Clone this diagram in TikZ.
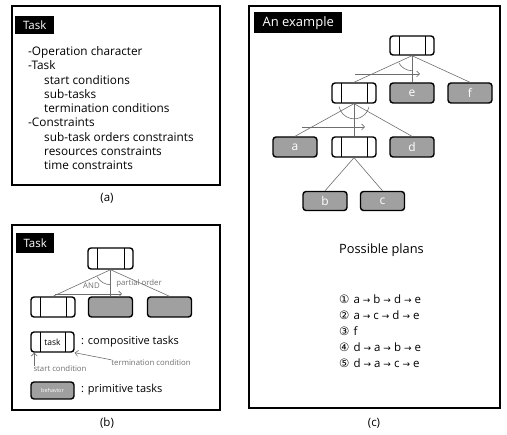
\documentclass[tikz,border=0pt]{standalone}
\usepackage{fontspec}
\setmainfont{Open Sans}
\newfontfamily\symfont{DejaVu Sans}
\usetikzlibrary{arrows.meta}
\definecolor{primgray}{HTML}{A0A0A0}
\definecolor{linegray}{HTML}{6E6E6E}
\newcommand{\pa}{\hspace{3pt}{\symfont\fontsize{9}{9}\selectfont →}\hspace{3pt}}
\newcommand{\cn}[1]{{\symfont #1}\hspace{4pt}}

\tikzset{
  panel/.style={draw,line width=1.3pt},
  title/.style={fill=black,text=white,inner sep=0pt,anchor=north west,font=\fontsize{11.5}{13}\selectfont},
  comp/.style={draw,line width=1.4pt,rounded corners=3pt,fill=white,minimum width=44pt,minimum height=20pt,inner sep=0pt,
    path picture={\draw[line width=0.6pt]
      ([xshift=9pt]path picture bounding box.north west) -- ([xshift=9pt]path picture bounding box.south west)
      ([xshift=-9pt]path picture bounding box.north east) -- ([xshift=-9pt]path picture bounding box.south east);}},
  prim/.style={draw,line width=1.4pt,rounded corners=3pt,fill=primgray,text=white,minimum width=44pt,minimum height=20pt,inner sep=0pt,font=\fontsize{12}{13}\selectfont},
  conn/.style={draw=linegray,line width=0.6pt},
  order/.style={conn,-{Straight Barb[length=3pt,width=6pt]}},
  small/.style={text=linegray,inner sep=0pt,font=\fontsize{7.8}{9}\selectfont},
  caption/.style={font=\fontsize{11.5}{13}\selectfont},
}

\begin{document}
\begin{tikzpicture}[x=1pt,y=-1pt]
\useasboundingbox (0,0) rectangle (507,435);

% (a) task description
\draw[panel] (12,6) rectangle (220,185);
\node[title,minimum width=39pt,minimum height=18pt] (atitle) at (15,16) {Task};
\node[anchor=north west,inner sep=0pt,align=left,font=\fontsize{11.8}{14.25}\selectfont] (alist) at (28,46.5)
  {-Operation character\\
   -Task\\
   \hspace*{16pt}start conditions\\
   \hspace*{16pt}sub-tasks\\
   \hspace*{16pt}termination conditions\\
   -Constraints\\
   \hspace*{16pt}sub-task orders constraints\\
   \hspace*{16pt}resources constraints\\
   \hspace*{16pt}time constraints};
\node[caption] (acap) at (107,198) {(a)};

% (b) task structure
\draw[panel] (12,225) rectangle (220,410);
\node[title,minimum width=38pt,minimum height=20pt] (btitle) at (16,233) {Task};
\node[comp,minimum width=45pt,minimum height=21pt] (tb0) at (110.5,258.5) {};
\node[comp] (tb1) at (53,307) {};
\node[prim] (tb2) at (110.5,307) {};
\node[prim] (tb3) at (169.5,307) {};
\draw[conn] (tb0.south) -- (tb1.north);
\draw[conn] (tb0.south) -- (tb2.north);
\draw[conn] (tb0.south) -- (tb3.north);
\draw[conn] ([yshift=-15pt]tb0.south) arc[start angle=90,end angle=152,radius=15];
\coordinate (bpos) at (55,294);
\coordinate (bpoe) at (122,294);
\draw[order] (bpos) -- (bpoe);
\node[small] (andlbl) at (91.5,286) {AND};
\node[small] (polbl) at (139,283) {partial order};

\node[comp,minimum width=43pt] (tbt) at (52.5,342) {\fontsize{8.5}{9}\selectfont task};
\node[anchor=west,inner sep=0pt,font=\fontsize{11}{13}\selectfont] (complbl) at (81,342) {: compositive tasks};
\node[small] (startlbl) at (60,369) {start condition};
\node[small] (termlbl) at (151,363) {termination condition};
\draw[order] ([xshift=4pt]tbt.south west |- startlbl.north) -- ([xshift=4pt]tbt.south west);
\draw[order] (termlbl.north west) -- (tbt.south east);
\node[prim,minimum width=43pt,minimum height=17pt,font=\fontsize{5.5}{6}\selectfont] (tbb) at (52.5,390.5) {behavior};
\node[anchor=west,inner sep=0pt,font=\fontsize{11}{13}\selectfont] (primlbl) at (81,390) {: primitive tasks};
\node[caption] (bcap) at (107,423) {(b)};

% (c) an example
\draw[panel] (249,6) rectangle (500,408);
\node[title,minimum width=88pt,minimum height=21pt,font=\fontsize{13}{14}\selectfont] (ctitle) at (254,12) {An example};
\node[comp,minimum height=19pt] (ct0) at (412,45.5) {};
\node[comp] (cl2) at (354,93) {};
\node[prim] (ce) at (412,93) {e};
\node[prim] (cf) at (470,93) {f};
\node[prim] (ca) at (295,147) {a};
\node[comp] (cm) at (354,147) {};
\node[prim] (cd) at (412,147) {d};
\node[prim,minimum height=19pt] (cb) at (325,201) {b};
\node[prim,minimum height=19pt] (cc) at (382.5,201) {c};
\draw[conn] (ct0.south) -- (cl2.north);
\draw[conn] (ct0.south) -- (ce.north);
\draw[conn] (ct0.south) -- (cf.north);
\draw[conn] (cl2.south) -- (ca.north);
\draw[conn] (cl2.south) -- (cm.north);
\draw[conn] (cl2.south) -- (cd.north);
\draw[conn] (cm.south) -- (cb.north);
\draw[conn] (cm.south) -- (cc.north);
\draw[conn] ([yshift=-15pt]ct0.south) arc[start angle=90,end angle=152,radius=15];
\draw[conn] (cl2.south) ++(15,3) arc[start angle=12,end angle=168,radius=15.3];
\coordinate (ctpos) at (355,74);
\coordinate (ctpoe) at (420,74);
\draw[order] (ctpos) -- (ctpoe);
\coordinate (cmpos) at (302,127);
\coordinate (cmpoe) at (365,127);
\draw[order] (cmpos) -- (cmpoe);

\node[font=\fontsize{12.8}{14}\selectfont] (plantitle) at (381.5,250) {Possible plans};
\node[anchor=north west,inner sep=0pt,align=left,font=\fontsize{11.5}{16}\selectfont] (planlist) at (339,294.5)
  {\cn{①}a\pa b\pa d\pa e\\
   \cn{②}a\pa c\pa d\pa e\\
   \cn{③}f\\
   \cn{④}d\pa a\pa b\pa e\\
   \cn{⑤}d\pa a\pa c\pa e};
\node[caption] (ccap) at (374,423) {(c)};
\end{tikzpicture}
\end{document}
